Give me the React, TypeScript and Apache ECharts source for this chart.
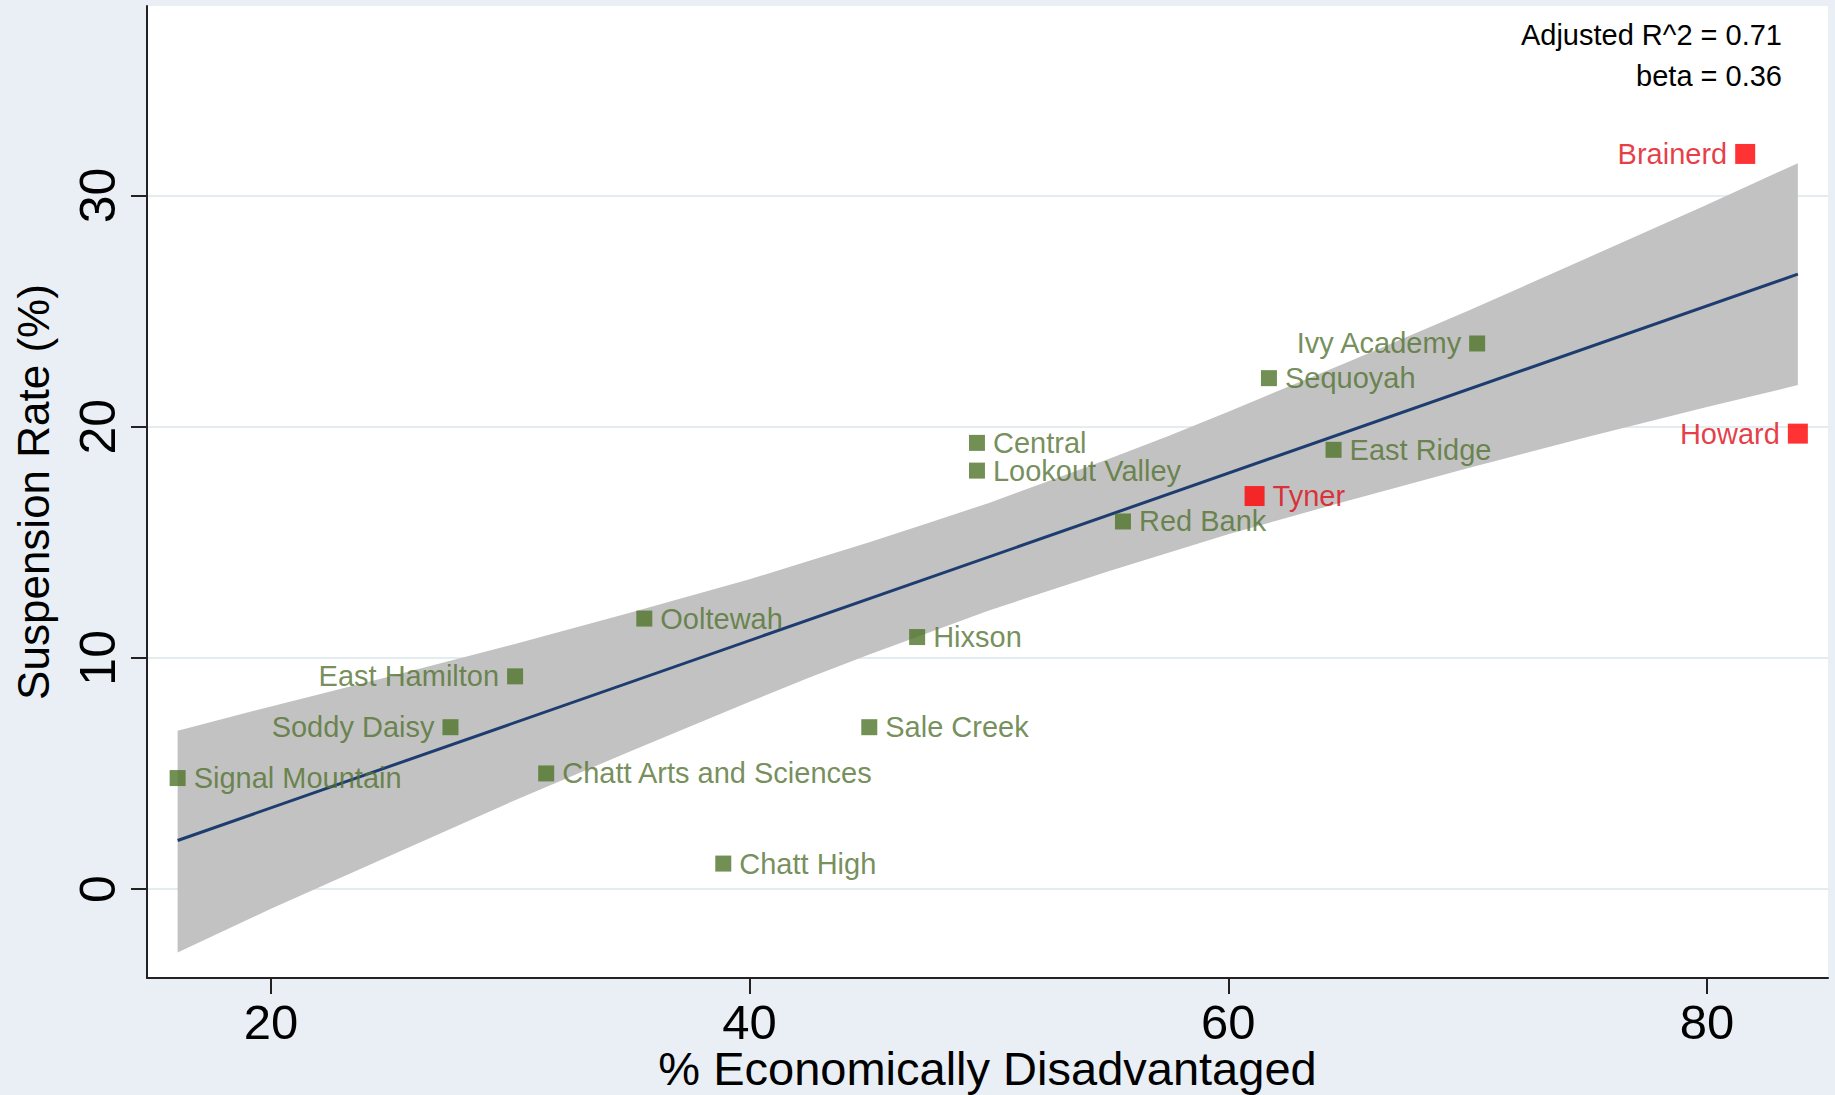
import React, { useEffect, useRef } from "react";
import * as echarts from "echarts";

const schools = [
  "Signal Mountain", "Soddy Daisy", "East Hamilton", "Chatt Arts and Sciences",
  "Ooltewah", "Chatt High", "Sale Creek", "Hixson", "Central", "Lookout Valley",
  "Red Bank", "Tyner", "Sequoyah", "East Ridge", "Ivy Academy", "Brainerd", "Howard",
];
const pctDisadvantaged = [16.1, 27.5, 30.2, 31.5, 35.6, 38.9, 45.0, 47.0, 49.5, 49.5, 55.6, 61.1, 61.7, 64.4, 70.4, 81.6, 83.8];
const suspensionRate = [4.8, 7.0, 9.2, 5.0, 11.7, 1.1, 7.0, 10.9, 19.3, 18.1, 15.9, 17.0, 22.1, 19.0, 23.6, 31.8, 19.7];
const highlightedSchools = ["Tyner", "Brainerd", "Howard"];
const leftLabeledSchools = ["East Hamilton", "Soddy Daisy", "Ivy Academy", "Brainerd", "Howard"];

const fitX = [16.1, 83.8];
const fitY = [2.1, 26.6];

const bandX = [16.1, 20, 25, 30, 35, 40, 42.5, 45, 47.5, 50, 52.5, 55, 57.5, 60, 65, 70, 75, 80, 83.8];
const bandUpper = [6.85, 7.9, 9.2, 10.55, 11.95, 13.4, 14.2, 15.0, 15.85, 16.7, 17.65, 18.6, 19.6, 20.65, 22.8, 25.0, 27.3, 29.6, 31.4];
const bandLower = [-2.75, -0.85, 1.45, 3.75, 5.95, 8.1, 9.15, 10.15, 11.1, 12.05, 12.9, 13.75, 14.55, 15.35, 16.8, 18.2, 19.55, 20.85, 21.8];

const xTicks = [20, 40, 60, 80];
const yTicks = [0, 10, 20, 30];

const annotations = ["Adjusted R^2 = 0.71", "beta = 0.36"];

const FONT = "'Liberation Sans', Arial, Helvetica, sans-serif";
const GREEN = "#4f7428";
const GREEN_TEXT = "#527230";
const RED = "#ff0000";
const RED_TEXT = "#e00a14";

export default function App() {
  const ref = useRef<HTMLDivElement>(null);

  useEffect(() => {
    if (!ref.current) return;
    const chart = echarts.init(ref.current, null, { renderer: "svg" });

    const pointData = schools.map((name, i) => {
      const red = highlightedSchools.includes(name);
      const left = leftLabeledSchools.includes(name);
      return {
        name,
        value: [pctDisadvantaged[i], suspensionRate[i]],
        symbolSize: red ? 20 : 16,
        itemStyle: { color: red ? RED : GREEN },
        label: {
          show: true,
          formatter: name,
          position: left ? "left" : "right",
          distance: 8,
          color: red ? RED_TEXT : GREEN_TEXT,
          fontSize: 29,
          lineHeight: 24,
          fontFamily: FONT,
        },
      };
    });

    const option: any = {
      animation: false,
      backgroundColor: "#e9eff5",
      grid: {
        left: 147,
        right: 7,
        top: 6,
        bottom: 117,
        show: true,
        backgroundColor: "#ffffff",
        borderWidth: 0,
        containLabel: false,
        outerBoundsMode: "none",
      },
      xAxis: {
        type: "value",
        min: 14.82,
        max: 85.06,
        name: "% Economically Disadvantaged",
        nameLocation: "middle",
        nameMoveOverlap: false,
        nameGap: 67,
        nameTextStyle: { fontSize: 47, lineHeight: 47, color: "#000", fontFamily: FONT },
        axisLine: { show: true, onZero: false, lineStyle: { color: "#222", width: 2 } },
        axisTick: { show: true, length: 16, customValues: xTicks, lineStyle: { color: "#222", width: 2 } },
        axisLabel: { customValues: xTicks, fontSize: 49, color: "#000", margin: 19, fontFamily: FONT },
        splitLine: { show: false },
      },
      yAxis: {
        type: "value",
        min: -3.85,
        max: 38.2,
        name: "Suspension Rate (%)",
        nameLocation: "middle",
        nameMoveOverlap: false,
        nameGap: 92,
        nameTextStyle: { fontSize: 44, color: "#000", fontFamily: FONT },
        axisLine: { show: true, onZero: false, lineStyle: { color: "#222", width: 2 } },
        axisTick: { show: true, length: 16, customValues: yTicks, lineStyle: { color: "#222", width: 2 } },
        axisLabel: { customValues: yTicks, rotate: 90, fontSize: 50, color: "#000", margin: 24, fontFamily: FONT },
        splitLine: { show: true, lineStyle: { color: "#e3edf0", width: 2 } },
      },
      graphic: annotations.map((t, i) => ({
        type: "text",
        right: 53,
        top: 20 + i * 41,
        style: { text: t, fontSize: 29, fill: "#000", fontFamily: FONT },
        z: 100,
      })),
      series: [
        {
          type: "custom",
          silent: true,
          z: 1,
          data: bandX.map((x, i) => [x, bandUpper[i], bandLower[i]]),
          encode: { x: 0, y: [1, 2] },
          renderItem: (params: any, api: any) => {
            if (params.dataIndex !== 0) return null;
            const pts: number[][] = [];
            for (let i = 0; i < bandX.length; i++) pts.push(api.coord([bandX[i], bandUpper[i]]));
            for (let i = bandX.length - 1; i >= 0; i--) pts.push(api.coord([bandX[i], bandLower[i]]));
            return { type: "polygon", shape: { points: pts }, style: { fill: "#c2c2c2" } };
          },
        },
        {
          type: "line",
          silent: true,
          z: 2,
          symbol: "none",
          data: fitX.map((x, i) => [x, fitY[i]]),
          lineStyle: { color: "#1d3d70", width: 3 },
        },
        {
          type: "scatter",
          symbol: "rect",
          z: 3,
          data: pointData,
        },
      ],
    };

    chart.setOption(option);
    return () => chart.dispose();
  }, []);

  return (
    <div
      ref={ref}
      style={{ position: "fixed", left: 0, top: 0, width: 1835, height: 1095 }}
    />
  );
}
